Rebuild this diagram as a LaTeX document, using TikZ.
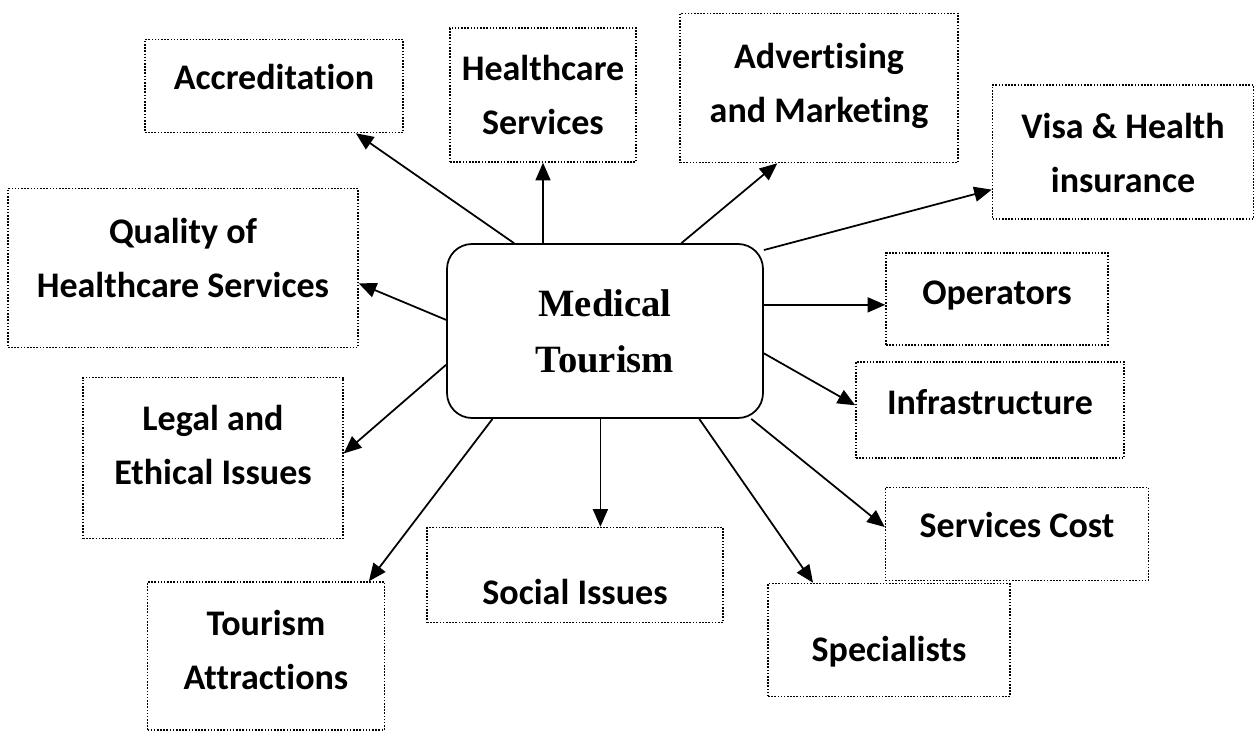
\documentclass[tikz,border=0pt]{standalone}
\usepackage{fontspec}
\setmainfont{Carlito}[Ligatures=NoCommon]
\newfontfamily\hubfont{Liberation Serif}
\usetikzlibrary{arrows.meta, calc}

\begin{document}
\begin{tikzpicture}[x=0.02cm, y=-0.02cm]
        \tikzset{
            topic/.style={draw, line width=0.85pt, dash pattern=on 0.9pt off 0.9pt,
                inner sep=0pt},
            topic text/.style={align=center, inner sep=0pt,
                font=\bfseries\fontsize{20.5}{31}\selectfont},
            hub/.style={draw, line width=1pt, rounded corners=0.5cm, align=center,
                inner sep=0pt, font=\hubfont\bfseries\fontsize{22}{32}\selectfont},
            link/.style={line width=1pt, -{Triangle[length=10pt,width=8.5pt]}}
        }
        \newcommand{\TopicBox}[6]{% name, centre, width, height, text offset, text
            \node[topic, minimum width=#3*0.02cm, minimum height=#4*0.02cm] (#1) at (#2) {};
            \node[topic text] (#1-t) at ($(#1)+(0,#5)$) {#6};
        }
        \useasboundingbox (0,0) rectangle (1256,733);

        \node[hub, minimum width=316*0.02cm, minimum height=174*0.02cm] (mt) at (605,331) {Medical\\Tourism};

        \TopicBox{acc}{274,86}{258}{93}{-9}{Accreditation}
        \TopicBox{hs}{543,95}{186}{134}{0}{Healthcare\\Services}
        \TopicBox{adv}{819,88}{278}{149}{-2}{Advertising\\and Marketing}
        \TopicBox{visa}{1123,152}{261}{134}{1}{Visa \& Health\\insurance}
        \TopicBox{qual}{183,268}{350}{159}{-10}{Quality of\\Healthcare Services}
        \TopicBox{op}{997,299}{222}{92}{-3}{Operators}
        \TopicBox{leg}{213,458}{260}{161}{-13}{Legal and\\Ethical Issues}
        \TopicBox{inf}{990,410}{268}{96}{-8}{Infrastructure}
        \TopicBox{sc}{1017,534}{263}{93}{-9}{Services Cost}
        \TopicBox{ta}{266,656}{237}{148}{-6}{Tourism\\Attractions}
        \TopicBox{soc}{575,575}{296}{95}{17}{Social Issues}
        \TopicBox{sp}{889,640}{242}{113}{12}{Specialists}

        \foreach \from/\to in {mt.136/acc.-30, mt.49/adv.241, mt.27/visa.196,
            mt.176/qual.-5, mt.192/leg.2, mt.-8/inf.178, mt.-31/sc.177,
            mt.-43/sp.143, mt.218/ta.36} {
            \draw[link] (\from) -- (\to);
        }
        \draw[link] (hs.south |- mt.north) -- (hs.south);
        \draw[link] (mt.east |- op.183) -- (op.183);
        \draw[link] (mt.-93) -- (mt.-93 |- soc.north);
    \end{tikzpicture}
\end{document}
